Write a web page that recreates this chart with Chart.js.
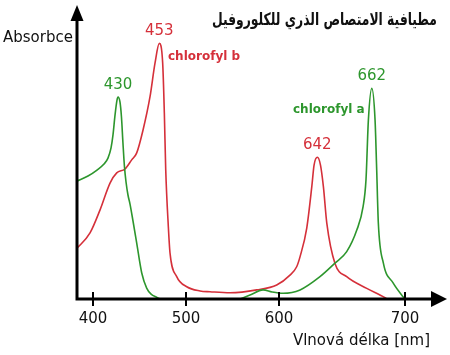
<!DOCTYPE html>
<html>
<head>
<meta charset="utf-8">
<script src="https://cdn.jsdelivr.net/npm/chart.js@4/dist/chart.umd.min.js"></script>
<style>
  html, body { margin: 0; padding: 0; background: #ffffff; }
  #wrap { width: 450px; height: 355px; }
</style>
</head>
<body>
<div id="wrap"><canvas id="c" width="450" height="355"></canvas></div>
<script>
// ---------- data ----------
const TITLE = 'مطيافية الامتصاص الذري للكلوروفيل';
const Y_LABEL = 'Absorbce';
const X_LABEL = 'Vlnová délka [nm]';
const X_TICKS = [400, 500, 600, 700];

const chlAName = 'chlorofyl a';
const chlBName = 'chlorofyl b';

// chlorophyll a (green), wavelength in nm along the drawn axis, relative absorbance
const chlA_nm  = [382.8, 394.6, 404.3, 411.8, 416.1, 419.4, 421.5, 423.7, 425.8, 426.9, 429.0, 430.6, 432.2, 433.8, 435.5, 437.6, 439.8, 443.0, 447.0, 452.4, 457.7, 462.4, 468.8, 472.0,
                  515.0,
                  558.1, 568.8, 582.8, 592.5, 603.2, 616.7, 632.5, 644.4, 653.7, 661.7, 666.7, 669.0, 670.9, 673.6, 676.2, 677.5, 678.8, 682.8, 690.5, 698.4, 700.0];
const chlA_abs = [0.454, 0.473, 0.496, 0.519, 0.542, 0.581, 0.631, 0.708, 0.765, 0.777, 0.758, 0.700, 0.600, 0.510, 0.450, 0.400, 0.365, 0.300, 0.215, 0.100, 0.042, 0.019, 0.006, 0.0,
                  null,
                  0.0, 0.015, 0.035, 0.027, 0.022, 0.035, 0.086, 0.138, 0.182, 0.265, 0.355, 0.458, 0.688, 0.810, 0.688, 0.496, 0.292, 0.138, 0.062, 0.009, 0.0];

// chlorophyll b (red)
const chlB_nm  = [382.8, 396.8, 407.5, 418.3, 425.5, 434.4, 441.6, 447.0, 453.8, 461.3, 466.7, 471.3, 474.9, 476.7, 478.2, 481.0, 482.8, 490.0, 500.8, 515.1, 525.8, 547.3,
                  576.0, 597.5, 608.7, 614.0, 616.7, 622.0, 626.0, 627.8, 630.4, 632.9, 635.2, 637.9, 644.4, 653.7, 669.6, 684.1, 685.7];
const chlB_abs = [0.195, 0.254, 0.342, 0.446, 0.485, 0.500, 0.535, 0.562, 0.650, 0.778, 0.908, 0.983, 0.908, 0.715, 0.496, 0.278, 0.177, 0.086, 0.047, 0.031, 0.028, 0.024,
                  0.035, 0.054, 0.092, 0.124, 0.163, 0.273, 0.432, 0.515, 0.545, 0.515, 0.432, 0.292, 0.137, 0.086, 0.041, 0.005, 0.0];

// peak annotations: [dataset index, search range min, max, label]
const PEAK_LABELS = [
  [0, 400, 500, '430'],
  [0, 650, 700, '662'],
  [1, 440, 500, '453'],
  [1, 600, 660, '642']
];

// ---------- styling ----------
const GREEN = '#2d962d';
const RED = '#d5303a';
const AXIS = '#000000';
const X_MIN = 382.8, X_MAX = 731.7;
const Y_MIN = 0, Y_MAX = 1.1;
const WARP = 126 / 93; // the reference draws 600-700 nm wider than 400-600 nm

class WarpScale extends Chart.LinearScale {
  warp(v) { return v <= 600 ? v : 600 + (v - 600) * WARP; }
  unwarp(u) { return u <= 600 ? u : 600 + (u - 600) / WARP; }
  getPixelForValue(value) {
    if (value === null || value === undefined || isNaN(value)) return NaN;
    const a = this.warp(this.min), b = this.warp(this.max);
    return this.getPixelForDecimal((this.warp(value) - a) / (b - a));
  }
  getValueForPixel(pixel) {
    const a = this.warp(this.min), b = this.warp(this.max);
    return this.unwarp(a + this.getDecimalForPixel(pixel) * (b - a));
  }
}
WarpScale.id = 'warp';
WarpScale.defaults = Chart.LinearScale.defaults;
Chart.register(WarpScale);

const toPts = (xs, ys) => xs.map((x, i) => ({ x: x, y: ys[i] }));

const decor = {
  id: 'decor',
  afterDatasetsDraw(chart) {
    const ctx = chart.ctx;
    const ca = chart.chartArea;
    const xs = chart.scales.x, ys = chart.scales.y;
    const x0 = ca.left, y0 = ca.bottom;
    ctx.save();
    // axes
    ctx.strokeStyle = AXIS;
    ctx.fillStyle = AXIS;
    ctx.lineWidth = 3;
    ctx.lineCap = 'butt';
    ctx.beginPath();
    ctx.moveTo(x0, y0 + 1.5);
    ctx.lineTo(x0, 18);
    ctx.moveTo(x0 - 1.5, y0);
    ctx.lineTo(433, y0);
    ctx.stroke();
    // arrow heads
    ctx.beginPath();
    ctx.moveTo(x0, 5);
    ctx.lineTo(x0 - 6.5, 21);
    ctx.lineTo(x0 + 6.5, 21);
    ctx.closePath();
    ctx.fill();
    ctx.beginPath();
    ctx.moveTo(447, y0);
    ctx.lineTo(431, y0 - 8);
    ctx.lineTo(431, y0 + 8);
    ctx.closePath();
    ctx.fill();
    // tick marks crossing the x axis
    ctx.lineWidth = 2;
    ctx.beginPath();
    xs.ticks.forEach(t => {
      const px = Math.round(xs.getPixelForValue(t.value));
      ctx.moveTo(px, y0 - 7);
      ctx.lineTo(px, y0 + 7);
    });
    ctx.stroke();

    // peak labels
    ctx.font = '15px "DejaVu Sans", sans-serif';
    ctx.textAlign = 'center';
    ctx.textBaseline = 'middle';
    PEAK_LABELS.forEach(([di, lo, hi, txt]) => {
      const data = chart.data.datasets[di].data;
      let best = null;
      data.forEach(p => {
        if (p.y !== null && p.x >= lo && p.x <= hi && (!best || p.y > best.y)) best = p;
      });
      if (!best) return;
      ctx.fillStyle = chart.data.datasets[di].borderColor;
      ctx.fillText(txt, xs.getPixelForValue(best.x), ys.getPixelForValue(best.y) - 12);
    });

    // series names
    ctx.font = 'bold 12px "DejaVu Sans", sans-serif';
    ctx.textAlign = 'left';
    ctx.fillStyle = RED;
    ctx.fillText(chlBName, 168, 57);
    ctx.fillStyle = GREEN;
    ctx.fillText(chlAName, 293, 110);

    // axis titles
    ctx.fillStyle = '#111111';
    ctx.font = '15px "DejaVu Sans", sans-serif';
    ctx.textAlign = 'left';
    ctx.fillText(Y_LABEL, 3, 38);
    ctx.textAlign = 'right';
    ctx.fillText(X_LABEL, 430, 341);

    // title (Arabic), condensed horizontally to the width it spans in the reference
    ctx.direction = 'rtl';
    ctx.textAlign = 'right';
    ctx.font = 'bold 17px "DejaVu Sans", sans-serif';
    const w = ctx.measureText(TITLE).width;
    const sx = Math.min(1, 225 / w);
    ctx.translate(437, 21);
    ctx.scale(sx, 1);
    ctx.fillText(TITLE, 0, 0);
    ctx.restore();
  }
};

new Chart(document.getElementById('c'), {
  type: 'line',
  data: {
    datasets: [
      { label: chlAName, data: toPts(chlA_nm, chlA_abs), borderColor: GREEN, borderWidth: 1.6,
        pointRadius: 0, cubicInterpolationMode: 'monotone', spanGaps: false, fill: false },
      { label: chlBName, data: toPts(chlB_nm, chlB_abs), borderColor: RED, borderWidth: 1.6,
        pointRadius: 0, cubicInterpolationMode: 'monotone', spanGaps: false, fill: false }
    ]
  },
  options: {
    responsive: false,
    animation: false,
    layout: { padding: { left: 77, right: 5, top: 13, bottom: 0 } },
    plugins: { legend: { display: false }, tooltip: { enabled: false }, title: { display: false } },
    scales: {
      x: {
        type: 'warp',
        min: X_MIN, max: X_MAX,
        afterBuildTicks: s => { s.ticks = X_TICKS.map(v => ({ value: v })); },
        afterFit: s => { s.height = 56; },
        grid: { display: false },
        border: { display: false },
        ticks: { color: '#111111', font: { family: 'DejaVu Sans', size: 15 }, padding: 3, maxRotation: 0, autoSkip: false,
                 callback: v => String(v) }
      },
      y: {
        type: 'linear', display: false, min: Y_MIN, max: Y_MAX
      }
    }
  },
  plugins: [decor]
});
</script>
</body>
</html>
